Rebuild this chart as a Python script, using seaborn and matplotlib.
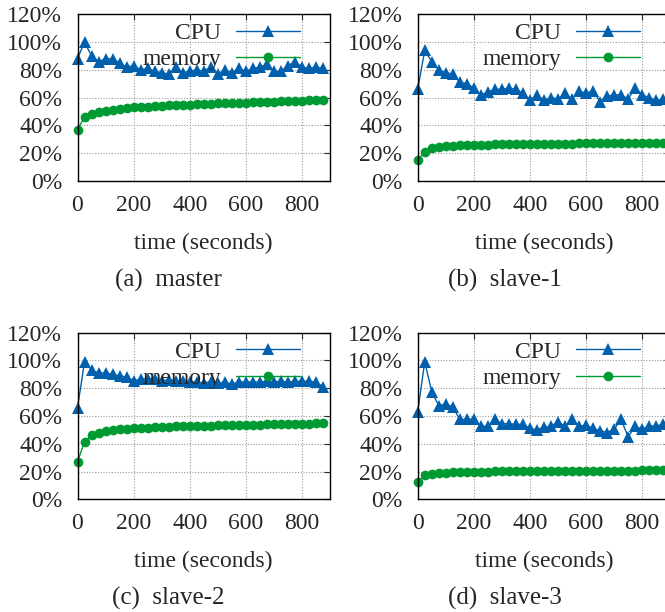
import matplotlib
matplotlib.use("Agg")
import matplotlib.pyplot as plt
import seaborn as sns

sns.set_style("white")
plt.rcParams['font.family'] = ['Liberation Serif', 'DejaVu Serif']
plt.rcParams['font.size'] = 17

# sampling times (seconds)
times = [0, 25, 50, 75, 100, 125, 150, 175, 200, 225, 250, 275,
         300, 325, 350, 375, 400, 425, 450, 475, 500, 525, 550, 575,
         600, 625, 650, 675, 700, 725, 750, 775, 800, 825, 850, 875]

# master
master_cpu = [88, 100, 90, 86, 88, 88, 85, 82, 83, 80, 81, 79,
              78, 77, 82, 78, 79, 80, 79, 82, 77, 80, 78, 81,
              79, 81, 82, 84, 79, 79, 83, 86, 82, 81, 82, 81]
master_mem = [37, 46, 48, 49.5, 50.5, 51.2, 51.8, 52.4, 53, 53.3, 53.6, 53.9,
              54.2, 54.4, 54.6, 54.8, 55, 55.2, 55.4, 55.6, 55.8, 56, 56.1, 56.3,
              56.5, 56.7, 56.8, 57, 57.2, 57.3, 57.5, 57.7, 57.8, 58, 58.2, 58.4]

# slave-1
slave1_cpu = [66, 94, 86, 80, 78, 77, 71, 70, 67, 62, 64, 66,
              66, 67, 66, 63, 58, 62, 58, 60, 59, 63, 59, 65,
              63, 65, 57, 61, 62, 62, 59, 67, 62, 60, 58, 59]
slave1_mem = [15, 21, 23.5, 24.5, 25, 25.3, 25.6, 25.8, 26, 26.1, 26.2, 26.3,
              26.4, 26.5, 26.5, 26.6, 26.6, 26.7, 26.7, 26.8, 26.8, 26.9, 26.9, 27,
              27, 27, 27.1, 27.1, 27.1, 27.2, 27.2, 27.2, 27.3, 27.3, 27.3, 27.3]

# slave-2
slave2_cpu = [66, 99, 93, 91, 91, 90, 89, 88, 85.5, 86.5, 87, 86.5,
              85.5, 86, 85.5, 85, 84.5, 84.5, 84, 84.5, 83.5, 84.5, 83, 84.5,
              84.5, 84.5, 84.5, 85, 84.5, 85, 84.5, 85, 85, 85, 84.5, 81]
slave2_mem = [27, 41.5, 46, 48, 49, 49.8, 50.3, 50.8, 51.2, 51.5, 51.7, 51.9,
              52.1, 52.3, 52.5, 52.6, 52.8, 52.9, 53, 53.1, 53.2, 53.3, 53.4, 53.5,
              53.6, 53.7, 53.8, 53.9, 54, 54.1, 54.2, 54.3, 54.4, 54.5, 54.6, 54.7]

# slave-3
slave3_cpu = [63, 99, 77.5, 67.5, 68.5, 66.5, 57.5, 57.5, 58, 52.5, 52.5, 57.5,
              54.5, 54.5, 54, 54, 51, 50, 52, 52.5, 56, 52.5, 58, 52.5,
              53.5, 51, 49.5, 48, 50.5, 57.5, 45, 52.5, 50.5, 53, 52.5, 54.5]
slave3_mem = [12.5, 17.5, 18.5, 19, 19.3, 19.5, 19.7, 19.8, 19.9, 20, 20, 20.1,
              20.1, 20.2, 20.2, 20.3, 20.3, 20.3, 20.4, 20.4, 20.4, 20.5, 20.5, 20.5,
              20.6, 20.6, 20.6, 20.6, 20.7, 20.7, 20.7, 20.7, 20.8, 20.8, 20.8, 20.8]

captions = ['(a)  master', '(b)  slave-1', '(c)  slave-2', '(d)  slave-3']
x_ticks = [0, 200, 400, 600, 800]
y_ticks = [0, 20, 40, 60, 80, 100, 120]
y_labels = ['0%', '20%', '40%', '60%', '80%', '100%', '120%']

cpu_color = '#0060ad'
mem_color = '#009a33'

W, H = 665, 612
fig = plt.figure(figsize=(W / 100, H / 100), dpi=100)

# panel boxes in pixels: left, top, right, bottom
boxes = [(77.5, 14.3, 330, 181), (417.7, 14.3, 670.2, 181),
         (77.5, 332.7, 330, 499.3), (417.7, 332.7, 670.2, 499.3)]
caption_pos = [(168, 280), (505, 280), (168, 598), (505, 598)]
series = [(master_cpu, master_mem), (slave1_cpu, slave1_mem),
          (slave2_cpu, slave2_mem), (slave3_cpu, slave3_mem)]

for (l, t, r, b), (cpu, mem), cap, (cx, cy) in zip(boxes, series, captions, caption_pos):
    ax = fig.add_axes([l / W, 1 - b / H, (r - l) / W, (b - t) / H])
    sns.lineplot(x=times, y=cpu, ax=ax, color=cpu_color, lw=1, marker='^',
                 markersize=8, markeredgewidth=0, label='CPU', clip_on=False)
    sns.lineplot(x=times, y=mem, ax=ax, color=mem_color, lw=1, marker='o',
                 markersize=7, markeredgewidth=0, label='memory', clip_on=False)
    ax.set_xlim(0, 900)
    ax.set_ylim(0, 120)
    ax.set_xticks(x_ticks)
    ax.set_yticks(y_ticks)
    ax.set_yticklabels(y_labels)
    ax.grid(True, color='#9a9a9a', linestyle=(0, (1, 1.5)), linewidth=0.8)
    ax.tick_params(direction='in', top=True, right=True, length=4, width=0.8,
                   labelsize=17)
    ax.tick_params(axis='y', pad=11)
    ax.tick_params(axis='x', pad=10)
    for s in ax.spines.values():
        s.set_color('black')
        s.set_linewidth(1)
    ax.set_xlabel('time (seconds)', fontsize=17, labelpad=12)
    ax.set_ylabel('')
    ax.legend(loc='upper right', bbox_to_anchor=(0.881, 0.95), frameon=False,
              markerfirst=False, handlelength=2.7, handletextpad=0.65,
              labelspacing=0.2, borderpad=0, borderaxespad=0, fontsize=17)
    fig.text(cx / W, 1 - cy / H, cap, ha='center', va='center', fontsize=18)

fig.savefig('out.png', dpi=100)
